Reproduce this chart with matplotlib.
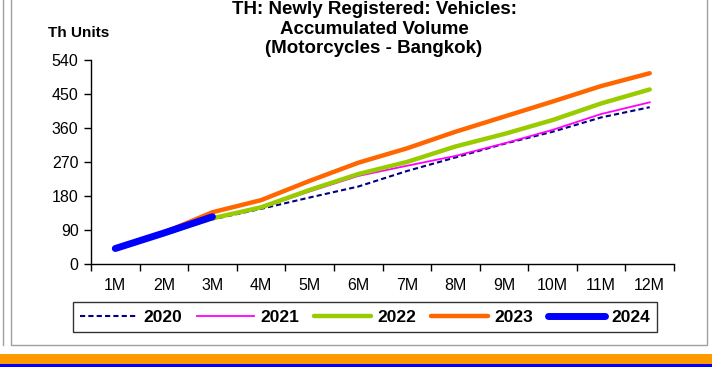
"""Accumulated newly registered motorcycles in Bangkok, by year."""

import matplotlib.pyplot as plt
from matplotlib.lines import Line2D
from matplotlib.patches import Rectangle

plt.rcParams['font.family'] = ['Liberation Sans', 'DejaVu Sans']

months = ['1M', '2M', '3M', '4M', '5M', '6M', '7M', '8M', '9M', '10M', '11M', '12M']
y2020 = [40, 80, 118, 146, 176, 205, 246, 282, 318, 350, 388, 415]
y2021 = [40, 80, 120, 148, 192, 233, 260, 286, 319, 355, 397, 428]
y2022 = [40, 80, 121, 150, 196, 238, 270, 311, 344, 381, 425, 462]
y2023 = [40, 83, 137, 169, 220, 268, 306, 350, 390, 430, 471, 505]
y2024 = [41, 82, 125]
yticks = [0, 90, 180, 270, 360, 450, 540]

W, H = 712, 367
fig = plt.figure(figsize=(W / 100, H / 100), dpi=100)


def px(x0, y0, x1, y1):
    """Pixel box (top-left origin) -> figure rect."""
    return [x0 / W, 1 - y1 / H, (x1 - x0) / W, (y1 - y0) / H]


# frame and bottom band
gray = '#a0a0a0'
fig.add_artist(Line2D([3 / W, 3 / W], [1, 1 - 345 / H], color=gray, lw=1))
fig.add_artist(Rectangle((11 / W, 1 - 345 / H), 696 / W, 345 / H + 0.01,
                         fill=False, edgecolor=gray, lw=1))
fig.add_artist(Rectangle((0, 1 - 364 / H), 1, 10 / H, color='#ff9900', lw=0))
fig.add_artist(Rectangle((0, 0), 1, 3 / H, color='#0000ff', lw=0))

ax = fig.add_axes(px(91, 60, 674, 264))
x = list(range(1, len(months) + 1))

ax.plot(x, y2020, color='#000080', lw=1.5, ls=(0, (2.5, 1.5)), label='2020')
ax.plot(x, y2021, color='#ff00ff', lw=1.3, label='2021')
ax.plot(x, y2022, color='#99cc00', lw=3.2, label='2022', solid_capstyle='round')
ax.plot(x, y2023, color='#ff6600', lw=3.2, label='2023', solid_capstyle='round')
ax.plot(x[:len(y2024)], y2024, color='#0000ff', lw=5, label='2024',
        solid_capstyle='round')

ax.set_xlim(0.5, len(months) + 0.5)
ax.set_ylim(0, 540)
ax.set_yticks(yticks)
ax.set_xticks(x)
ax.set_xticklabels(months)
ax.set_xticks([i + 0.5 for i in range(len(months) + 1)], minor=True)
ax.tick_params(axis='x', which='major', length=0, pad=10, labelsize=11.5)
ax.tick_params(axis='x', which='minor', length=5, width=1, direction='out')
ax.tick_params(axis='y', length=5, width=1, direction='out', pad=4,
               labelsize=11.5)
for side in ('top', 'right'):
    ax.spines[side].set_visible(False)
for side in ('left', 'bottom'):
    ax.spines[side].set_linewidth(1)

fig.text(79 / W, 1 - 33 / H, 'Th Units', ha='center', va='center',
         fontsize=11, fontweight='bold')
fig.text(374 / W, 1 - 29 / H,
         'TH: Newly Registered: Vehicles:\nAccumulated Volume\n'
         '(Motorcycles - Bangkok)',
         ha='center', va='center', fontsize=13.5, fontweight='bold',
         linespacing=1.2)

leg = ax.legend(loc='center', bbox_to_anchor=(365 / W, 1 - 317 / H),
                bbox_transform=fig.transFigure, ncol=5, frameon=True,
                fancybox=False, edgecolor='black', handlelength=3.3,
                handletextpad=0.35, columnspacing=0.85, borderpad=0.4,
                prop={'weight': 'bold', 'size': 12.5})
leg.get_frame().set_linewidth(1)

fig.savefig('out.png', dpi=100)
